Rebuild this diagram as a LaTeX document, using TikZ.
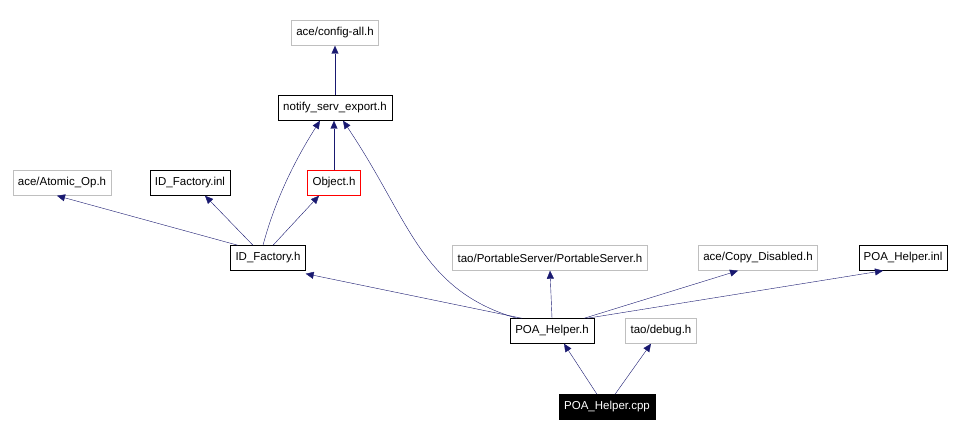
\documentclass[tikz,border=0pt]{standalone}
\usepackage{fontspec}
\setmainfont{Liberation Sans}
\usetikzlibrary{arrows.meta}
\definecolor{edge}{HTML}{191970}
\definecolor{gr}{HTML}{BFBFBF}
\begin{document}
\begin{tikzpicture}[x=1pt,y=-1pt,
  n/.style={draw=black,fill=white,minimum height=25pt,inner xsep=5pt,font=\fontsize{11.5}{13}\selectfont},
  g/.style={n,draw=gr},
  e/.style={draw=edge,-{Triangle[length=8pt,width=7pt]}}]
\useasboundingbox (0,0) rectangle (960,435);
\node[g] (cfg) at (335,33) {ace/config-all.h};
\node[n] (nse) at (335,108) {notify\_serv\_export.h};
\node[g] (ato) at (62,183) {ace/Atomic\_Op.h};
\node[n] (ifi) at (190,183) {ID\_Factory.inl};
\node[n,draw=red] (obj) at (334,183) {Object.h};
\node[n] (ifh) at (268,258) {ID\_Factory.h};
\node[g] (ps) at (550,258) {tao/PortableServer/PortableServer.h};
\node[g] (cd) at (758,258) {ace/Copy\_Disabled.h};
\node[n] (phi) at (903,258) {POA\_Helper.inl};
\node[n] (phh) at (552,331) {POA\_Helper.h};
\node[g] (dbg) at (661,331) {tao/debug.h};
\node[n,fill=black,text=white] (cpp) at (607,407) {POA\_Helper.cpp};
\draw[e] ([xshift=-10pt]cpp.north) -- ([xshift=12pt]phh.south);
\draw[e] ([xshift=8pt]cpp.north) -- ([xshift=-10pt]dbg.south);
\draw[e] ([xshift=-30pt]phh.north) -- ([yshift=-3pt]ifh.south east);
\draw[e] (phh.north) -- (ps.south);
\draw[e] ([xshift=32pt]phh.north) -- ([xshift=-20pt]cd.south);
\draw[e] ([xshift=35pt]phh.north) -- ([xshift=-20pt]phi.south);
\draw[e] ([xshift=-35pt]phh.north) .. controls (420,290) and (410,220) .. ([xshift=8pt]nse.south);
\draw[e] ([xshift=-30pt]ifh.north) -- ([xshift=-5pt]ato.south);
\draw[e] ([xshift=-15pt]ifh.north) -- ([xshift=15pt]ifi.south);
\draw[e] ([xshift=5pt]ifh.north) -- ([xshift=-15pt]obj.south);
\draw[e] ([xshift=-5pt]ifh.north) .. controls (275,200) and (295,160) .. ([xshift=-15pt]nse.south);
\draw[e] (obj.north) -- ([xshift=-1pt]nse.south);
\draw[e] (nse.north) -- (cfg.south);
\end{tikzpicture}
\end{document}
